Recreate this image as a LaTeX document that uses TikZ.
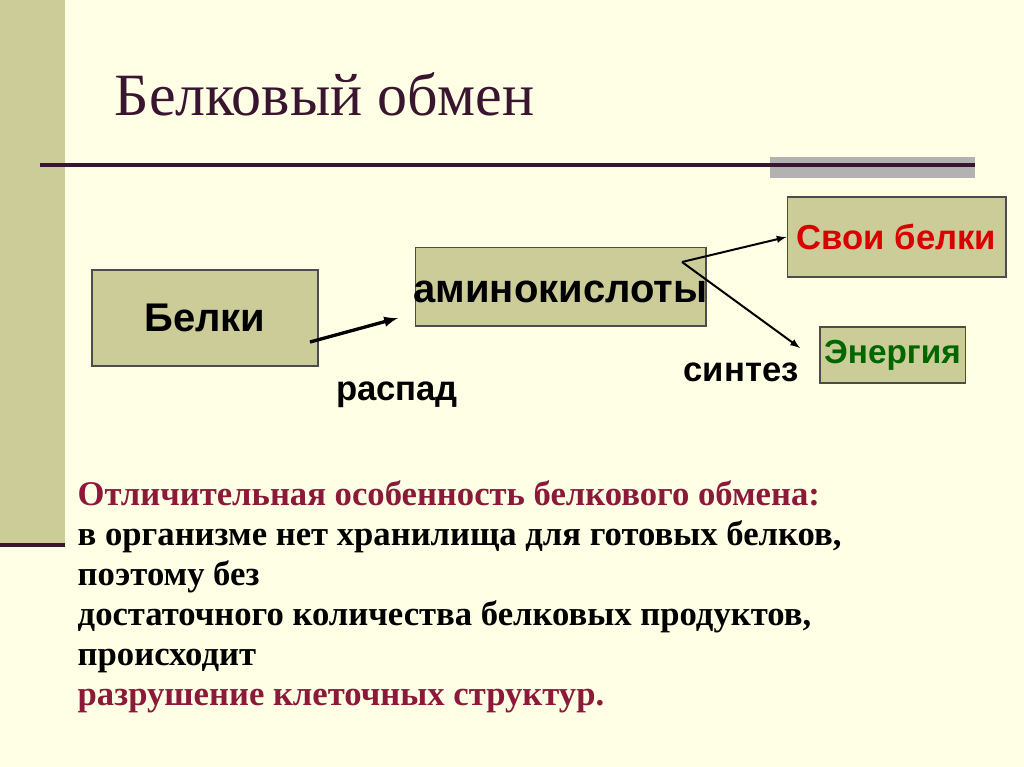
\documentclass[tikz,border=0pt]{standalone}
\usepackage{fontspec}
\setmainfont{Liberation Serif}
\setsansfont{Liberation Sans}
\begin{document}
\begin{tikzpicture}[x=0.75pt,y=-0.75pt]
\definecolor{bg}{HTML}{FFFFE6}
\definecolor{band}{HTML}{CCCC99}
\definecolor{maroon}{HTML}{3A1530}
\definecolor{redtxt}{HTML}{8B1A3A}
\definecolor{grn}{HTML}{006600}
\tikzset{box/.style={draw=black!70,line width=1pt,fill=band,font=\sffamily\bfseries,inner sep=0pt},
 arr/.style={-latex,line width=1.5pt},
 lbl/.style={font=\sffamily\bfseries\fontsize{26}{30}\selectfont}}
\fill[bg] (0,0) rectangle (1024,767);
\useasboundingbox (0,0) rectangle (1024,767);
\fill[band] (0,0) rectangle (65,545);
\draw[maroon,line width=3pt] (0,545) -- (65,545);
\fill[black!30] (770,157) rectangle (975,178);
\draw[maroon,line width=2.5pt] (40,165) -- (975,165);
\node[anchor=base west,text=maroon,font=\fontsize{45}{50}\selectfont] (title) at (110,115) {Белковый обмен};
\node[box,minimum width=169.5pt,minimum height=72pt,font=\sffamily\bfseries\fontsize{30}{34}\selectfont] (b) at (205,318) {Белки};
\node[box,minimum width=218pt,minimum height=59pt] (a) at (560.5,286.5) {};
\node[anchor=base,font=\sffamily\bfseries\fontsize{30}{34}\selectfont] (at) at (560.5,302) {аминокислоты};
\node[box,minimum width=164pt,minimum height=60pt,text=red!85!black,font=\sffamily\bfseries\fontsize{26}{30}\selectfont] (s) at (896.5,237) {Свои белки};
\node[box,minimum width=109pt,minimum height=42pt,text=grn,font=\sffamily\bfseries\fontsize{25}{30}\selectfont] (e) at (892.5,355) {Энергия};
\coordinate (b1) at (310,342);
\coordinate (a1) at (398,318);
\coordinate (a2) at (682,262);
\coordinate (e1) at (800,348);
\draw[arr,line width=2.5pt] (b1) -- (a1);
\draw[arr] (a2) -- (s.west);
\draw[arr] (a2) -- (e1);
\node[lbl] (r) at (397,395) {распад};
\node[lbl] (sy) at (741,372) {синтез};
\node[anchor=north west,align=left,font=\bfseries\fontsize{26}{30}\selectfont] (t) at (73,476) {%
\textcolor{redtxt}{Отличительная особенность белкового обмена:}\\
в организме нет хранилища для готовых белков,\\
поэтому без\\
достаточного количества белковых продуктов,\\
происходит\\
\textcolor{redtxt}{разрушение клеточных структур.}};
\end{tikzpicture}
\end{document}
